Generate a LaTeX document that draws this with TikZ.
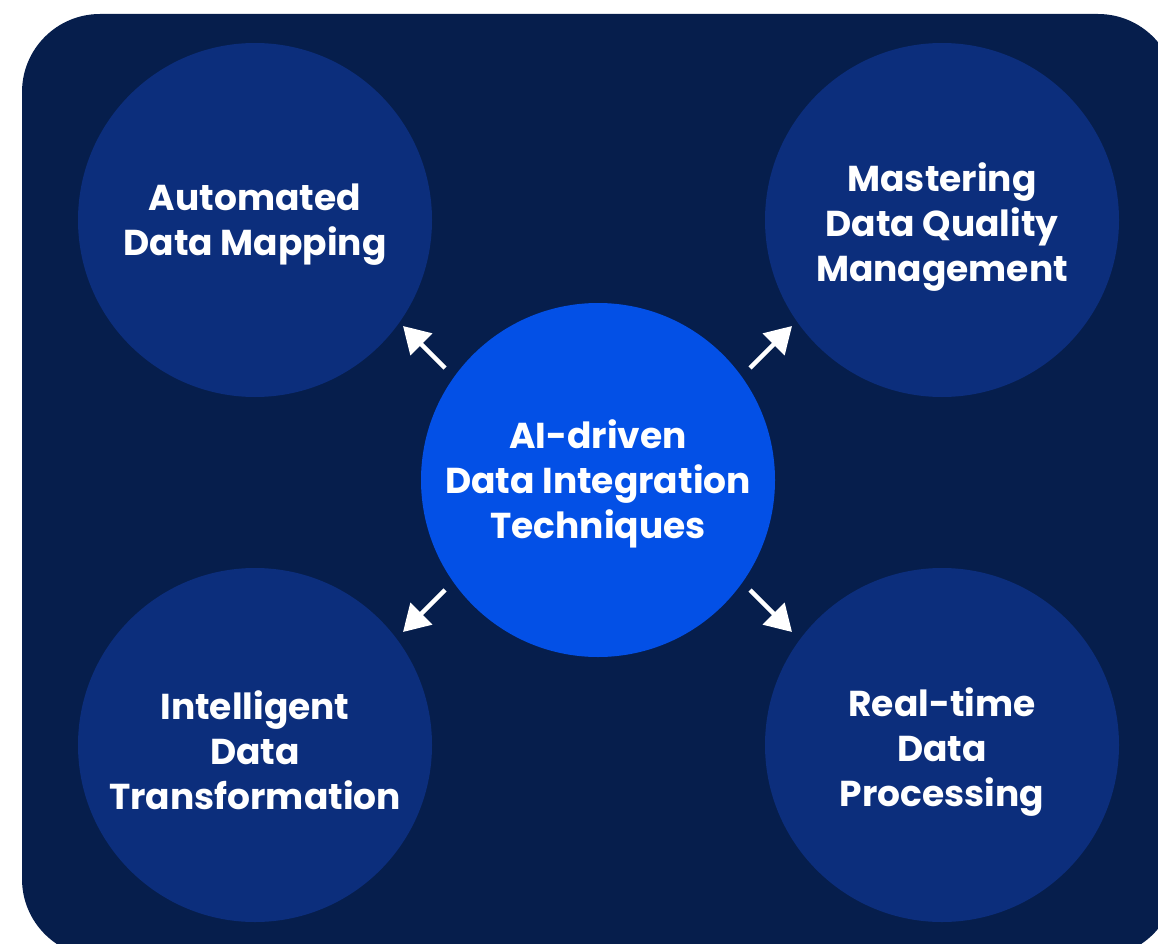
\documentclass[tikz,border=0pt]{standalone}
\usepackage{fontspec}
\setmainfont{Poppins}
\usetikzlibrary{arrows.meta}
\definecolor{bgnavy}{RGB}{6,30,76}
\definecolor{outerblue}{RGB}{12,46,124}
\definecolor{centerblue}{RGB}{3,80,230}
\tikzset{
  outer/.style={circle,fill=outerblue,minimum size=354pt,inner sep=0pt},
  centre/.style={outer,fill=centerblue},
  label/.style={text=white,font=\fontsize{36}{45}\selectfont\bfseries,align=center,inner sep=0pt},
  arr/.style={draw=white,line width=4.5pt,-{Triangle[length=26pt,width=30pt]}}
}
\begin{document}
\begin{tikzpicture}[x=1pt,y=-1pt]
\useasboundingbox (0,0) rectangle (1158,944);
\begin{scope}
\clip (0,0) rectangle (1158,944);
\fill[bgnavy,rounded corners=78pt] (22,14) rectangle (1176,957);
\end{scope}
\node[outer] (tl) at (255,220) {};
\node[outer] (tr) at (942,220) {};
\node[outer] (bl) at (255,745) {};
\node[outer] (br) at (942,745) {};
\node[centre] (c) at (598,480) {};
\node[label] (tlt) at ([yshift=-5pt]tl.center) {Automated\\Data Mapping};
\node[label] (trt) at ([yshift=-7pt]tr.center) {Mastering\\Data Quality\\Management};
\node[label] (blt) at ([yshift=-5pt]bl.center) {Intelligent\\Data\\Transformation};
\node[label] (brt) at ([yshift=-7pt]br.center) {Real-time\\Data\\Processing};
\node[label] (ct) at ([yshift=-4pt]c.center) {AI-driven\\Data Integration\\Techniques};
\coordinate (a1s) at (445,368); \coordinate (a1e) at (403,326);
\coordinate (a2s) at (750,368); \coordinate (a2e) at (792,326);
\coordinate (a3s) at (445,590); \coordinate (a3e) at (403,632);
\coordinate (a4s) at (750,590); \coordinate (a4e) at (792,632);
\draw[arr] (a1s) -- (a1e);
\draw[arr] (a2s) -- (a2e);
\draw[arr] (a3s) -- (a3e);
\draw[arr] (a4s) -- (a4e);
\end{tikzpicture}
\end{document}
